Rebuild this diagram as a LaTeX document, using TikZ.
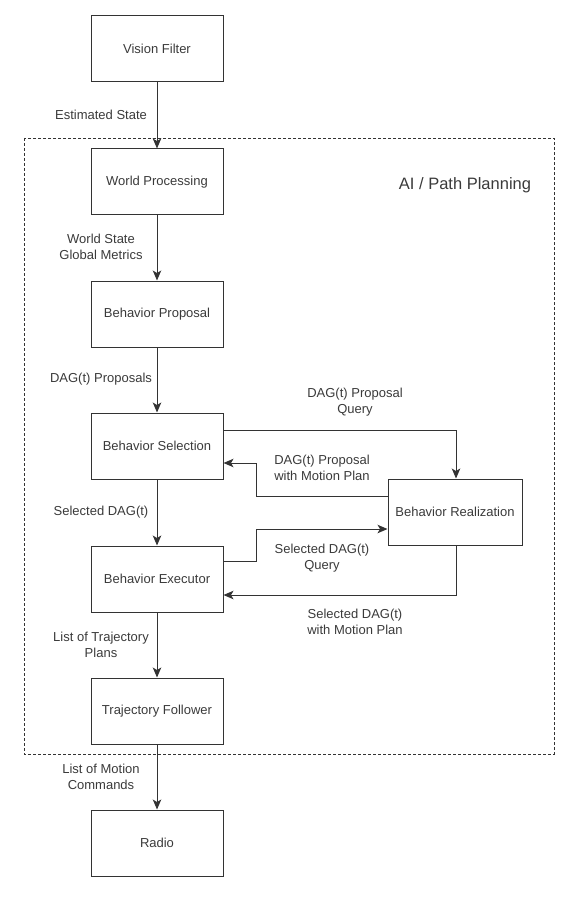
\documentclass[tikz,border=0pt]{standalone}
\usepackage{fontspec}
\setmainfont{Liberation Sans}
\usetikzlibrary{arrows.meta}
\definecolor{ln}{HTML}{333333}
\definecolor{tx}{HTML}{3A3A3A}
\begin{document}
\begin{tikzpicture}[x=1pt,y=-1pt,
  box/.style={draw=ln,line width=1pt,minimum width=132pt,minimum height=66pt,inner sep=0pt,text=tx,font=\fontsize{13}{15}\selectfont},
  conn/.style={draw=ln,line width=1pt,-{Stealth[length=10pt,width=8.5pt,inset=2.5pt]}},
  lbl/.style={text=tx,font=\fontsize{13}{16.5}\selectfont,align=center,inner sep=0pt}]
\useasboundingbox (0,0) rectangle (570,901);
\draw[ln,line width=0.8pt,dash pattern=on 3pt off 2pt] (24,138) rectangle (554,754);
\node[text=tx,font=\fontsize{16.5}{19}\selectfont,inner sep=0pt] (ai) at (465,185) {AI / Path Planning};

\node[box] (vf) at (157,49) {Vision Filter};
\node[box] (wp) at (157,182) {World Processing};
\node[box] (bp) at (157,314) {Behavior Proposal};
\node[box] (bs) at (157,446) {Behavior Selection};
\node[box] (be) at (157,579) {Behavior Executor};
\node[box] (tf) at (157,711) {Trajectory Follower};
\node[box] (ra) at (157,843) {Radio};
\node[box,minimum width=134pt] (br) at (455,512) {Behavior Realization};

\draw[conn] (vf) -- (wp);
\draw[conn] (wp) -- (bp);
\draw[conn] (bp) -- (bs);
\draw[conn] (bs) -- (be);
\draw[conn] (be) -- (tf);
\draw[conn] (tf) -- (ra);

\coordinate (c1) at (456,430);
\draw[conn] (bs.east |- c1) -- (c1) -- (c1 |- br.north);
\coordinate (c2) at (256,496);
\coordinate (c3) at (256,463);
\draw[conn] (br.west |- c2) -- (c2) -- (c3) -- (bs.east |- c3);
\coordinate (c4) at (256,561);
\coordinate (c5) at (256,529);
\draw[conn] (be.east |- c4) -- (c4) -- (c5) -- (br.west |- c5);
\coordinate (c6) at (456,595);
\draw[conn] (c6 |- br.south) -- (c6) -- (be.east |- c6);

\node[lbl] (l1) at (101,115) {Estimated State};
\node[lbl] (l2) at (101,247) {World State\\Global Metrics};
\node[lbl] (l3) at (101,379) {DAG(t) Proposals};
\node[lbl] (l4) at (101,512) {Selected DAG(t)};
\node[lbl] (l5) at (101,645) {List of Trajectory\\Plans};
\node[lbl] (l6) at (101,777) {List of Motion\\Commands};
\node[lbl] (l7) at (355,402) {DAG(t) Proposal\\Query};
\node[lbl] (l8) at (322,468) {DAG(t) Proposal\\with Motion Plan};
\node[lbl] (l9) at (322,558) {Selected DAG(t)\\Query};
\node[lbl] (l10) at (355,622) {Selected DAG(t)\\with Motion Plan};
\end{tikzpicture}
\end{document}
